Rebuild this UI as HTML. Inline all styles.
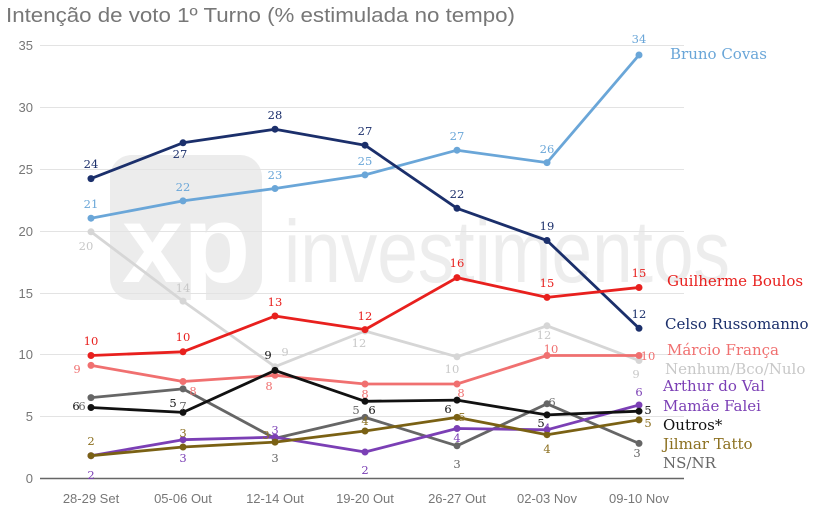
<!DOCTYPE html>
<html><head><meta charset="utf-8"><style>
body{margin:0;background:#fff;}
svg{display:block;}
.ax{font-family:"Liberation Sans",sans-serif;font-size:13px;fill:#777;}
.dl{font-family:"DejaVu Serif","Liberation Serif",serif;font-size:11.5px;text-anchor:middle;}
.lg{font-family:"DejaVu Serif","Liberation Serif",serif;font-size:15px;}
</style></head><body>
<svg width="819" height="513" viewBox="0 0 819 513" xmlns="http://www.w3.org/2000/svg">
<text x="6" y="22" font-family="Liberation Sans,sans-serif" font-size="20" fill="#777" textLength="509" lengthAdjust="spacingAndGlyphs">Intenção de voto 1º Turno (% estimulada no tempo)</text>
<!-- watermark -->
<rect x="110" y="155" width="152" height="145" rx="22" fill="#ececec"/>
<text x="122" y="282" font-family="Liberation Sans,sans-serif" font-weight="bold" font-size="110" fill="#fff">xp</text>
<text x="284" y="282" font-family="Liberation Sans,sans-serif" font-size="88" fill="#ededed" textLength="446" lengthAdjust="spacingAndGlyphs">investimentos</text>
<!-- grid -->
<g stroke="#e3e3e3" stroke-width="1">
<line x1="40" x2="684" y1="45.5" y2="45.5"/><line x1="40" x2="684" y1="107.5" y2="107.5"/>
<line x1="40" x2="684" y1="169.5" y2="169.5"/><line x1="40" x2="684" y1="231.5" y2="231.5"/>
<line x1="40" x2="684" y1="293.5" y2="293.5"/><line x1="40" x2="684" y1="354.5" y2="354.5"/>
<line x1="40" x2="684" y1="416.5" y2="416.5"/>
</g>
<line x1="40" x2="684" y1="478.5" y2="478.5" stroke="#666" stroke-width="1.5"/>
<g class="ax" text-anchor="end">
<text x="33" y="50">35</text><text x="33" y="112">30</text><text x="33" y="174">25</text>
<text x="33" y="236">20</text><text x="33" y="298">15</text><text x="33" y="359">10</text>
<text x="33" y="421">5</text><text x="33" y="483">0</text>
</g>
<g class="ax" text-anchor="middle">
<text x="91" y="503">28-29 Set</text><text x="183" y="503">05-06 Out</text><text x="275" y="503">12-14 Out</text>
<text x="365" y="503">19-20 Out</text><text x="457" y="503">26-27 Out</text><text x="547" y="503">02-03 Nov</text><text x="639" y="503">09-10 Nov</text>
</g>
<g fill="none" stroke-width="2.8" stroke-linejoin="round">
<polyline stroke="#d6d6d6" points="91,231.8 183,301.1 275,366.7 365,331 457,356.8 547,325.8 639,360.5"/>
<polyline stroke="#6aa6d8" points="91,218.2 183,200.9 275,188.5 365,174.9 457,150.2 547,162.6 639,55"/>
<polyline stroke="#1b2f6b" points="91,178.6 183,142.8 275,129.2 365,145.2 457,208.3 547,240.5 639,328.3"/>
<polyline stroke="#e8201e" points="91,355.5 183,351.8 275,316 365,329.6 457,277.6 547,297.4 639,287.5"/>
<polyline stroke="#f07070" points="91,365.4 183,381.5 275,375.3 365,384 457,384 547,355.5 639,355.5"/>
<polyline stroke="#666" points="91,397.6 183,388.9 275,438.4 365,417.4 457,445.8 547,403.8 639,443.4"/>
<polyline stroke="#7b3fb5" points="91,455.7 183,439.7 275,437.2 365,452 457,428.5 547,429.8 639,405"/>
<polyline stroke="#7a6114" points="91,455.7 183,447 275,442.1 365,431 457,417.4 547,434.7 639,419.9"/>
<polyline stroke="#111" points="91,407.5 183,412.4 275,370.4 365,401.3 457,400.1 547,414.9 639,411.2"/>
</g>
<g>
<g fill="#d6d6d6"><circle cx="91" cy="231.8" r="3.5"/><circle cx="183" cy="301.1" r="3.5"/><circle cx="275" cy="366.7" r="3.5"/><circle cx="365" cy="331" r="3.5"/><circle cx="457" cy="356.8" r="3.5"/><circle cx="547" cy="325.8" r="3.5"/><circle cx="639" cy="360.5" r="3.5"/></g>
<g fill="#6aa6d8"><circle cx="91" cy="218.2" r="3.5"/><circle cx="183" cy="200.9" r="3.5"/><circle cx="275" cy="188.5" r="3.5"/><circle cx="365" cy="174.9" r="3.5"/><circle cx="457" cy="150.2" r="3.5"/><circle cx="547" cy="162.6" r="3.5"/><circle cx="639" cy="55" r="3.5"/></g>
<g fill="#1b2f6b"><circle cx="91" cy="178.6" r="3.5"/><circle cx="183" cy="142.8" r="3.5"/><circle cx="275" cy="129.2" r="3.5"/><circle cx="365" cy="145.2" r="3.5"/><circle cx="457" cy="208.3" r="3.5"/><circle cx="547" cy="240.5" r="3.5"/><circle cx="639" cy="328.3" r="3.5"/></g>
<g fill="#e8201e"><circle cx="91" cy="355.5" r="3.5"/><circle cx="183" cy="351.8" r="3.5"/><circle cx="275" cy="316" r="3.5"/><circle cx="365" cy="329.6" r="3.5"/><circle cx="457" cy="277.6" r="3.5"/><circle cx="547" cy="297.4" r="3.5"/><circle cx="639" cy="287.5" r="3.5"/></g>
<g fill="#f07070"><circle cx="91" cy="365.4" r="3.5"/><circle cx="183" cy="381.5" r="3.5"/><circle cx="275" cy="375.3" r="3.5"/><circle cx="365" cy="384" r="3.5"/><circle cx="457" cy="384" r="3.5"/><circle cx="547" cy="355.5" r="3.5"/><circle cx="639" cy="355.5" r="3.5"/></g>
<g fill="#666"><circle cx="91" cy="397.6" r="3.5"/><circle cx="183" cy="388.9" r="3.5"/><circle cx="275" cy="438.4" r="3.5"/><circle cx="365" cy="417.4" r="3.5"/><circle cx="457" cy="445.8" r="3.5"/><circle cx="547" cy="403.8" r="3.5"/><circle cx="639" cy="443.4" r="3.5"/></g>
<g fill="#7b3fb5"><circle cx="91" cy="455.7" r="3.5"/><circle cx="183" cy="439.7" r="3.5"/><circle cx="275" cy="437.2" r="3.5"/><circle cx="365" cy="452" r="3.5"/><circle cx="457" cy="428.5" r="3.5"/><circle cx="547" cy="429.8" r="3.5"/><circle cx="639" cy="405" r="3.5"/></g>
<g fill="#7a6114"><circle cx="91" cy="455.7" r="3.5"/><circle cx="183" cy="447" r="3.5"/><circle cx="275" cy="442.1" r="3.5"/><circle cx="365" cy="431" r="3.5"/><circle cx="457" cy="417.4" r="3.5"/><circle cx="547" cy="434.7" r="3.5"/><circle cx="639" cy="419.9" r="3.5"/></g>
<g fill="#111"><circle cx="91" cy="407.5" r="3.5"/><circle cx="183" cy="412.4" r="3.5"/><circle cx="275" cy="370.4" r="3.5"/><circle cx="365" cy="401.3" r="3.5"/><circle cx="457" cy="400.1" r="3.5"/><circle cx="547" cy="414.9" r="3.5"/><circle cx="639" cy="411.2" r="3.5"/></g>
</g>
<!-- data labels -->
<g class="dl">
<g fill="#6aa6d8"><text x="91" y="208">21</text><text x="183" y="191">22</text><text x="275" y="179">23</text><text x="365" y="165">25</text><text x="457" y="140">27</text><text x="547" y="153">26</text><text x="639" y="43">34</text></g>
<g fill="#1b2f6b"><text x="91" y="168">24</text><text x="180" y="158">27</text><text x="275" y="119">28</text><text x="365" y="135">27</text><text x="457" y="198">22</text><text x="547" y="230">19</text><text x="639" y="318">12</text></g>
<g fill="#e8201e"><text x="91" y="345">10</text><text x="183" y="341">10</text><text x="275" y="306">13</text><text x="365" y="320">12</text><text x="457" y="267">16</text><text x="547" y="287">15</text><text x="639" y="277">15</text></g>
<g fill="#f07070"><text x="77" y="373">9</text><text x="193" y="395">8</text><text x="269" y="390">8</text><text x="365" y="398">8</text><text x="461" y="397">8</text><text x="551" y="353">10</text><text x="648" y="360">10</text></g>
<g fill="#c8c8c8"><text x="86" y="250">20</text><text x="183" y="292">14</text><text x="285" y="356">9</text><text x="359" y="347">12</text><text x="452" y="373">10</text><text x="544" y="339">12</text><text x="636" y="378">9</text></g>
<g fill="#111"><text x="76" y="410">6</text><text x="173" y="407">5</text><text x="268" y="359">9</text><text x="372" y="414">6</text><text x="448" y="413">6</text><text x="541" y="427">5</text><text x="648" y="414">5</text></g>
<g fill="#666"><text x="82" y="410">6</text><text x="183" y="410">7</text><text x="275" y="462">3</text><text x="356" y="414">5</text><text x="457" y="468">3</text><text x="552" y="406">6</text><text x="637" y="457">3</text></g>
<g fill="#7b3fb5"><text x="91" y="479">2</text><text x="183" y="462">3</text><text x="275" y="434">3</text><text x="365" y="474">2</text><text x="457" y="442">4</text><text x="547" y="432">4</text><text x="639" y="396">6</text></g>
<g fill="#8c7020"><text x="91" y="445">2</text><text x="183" y="437">3</text><text x="266" y="439">3</text><text x="365" y="425">4</text><text x="462" y="421">5</text><text x="547" y="453">4</text><text x="648" y="427">5</text></g>
</g>
<!-- legend -->
<g class="lg">
<text x="670" y="59" fill="#6aa6d8">Bruno Covas</text>
<text x="667" y="286" fill="#e8201e">Guilherme Boulos</text>
<text x="665" y="329" fill="#1b2f6b">Celso Russomanno</text>
<text x="667" y="355" fill="#f07070">Márcio França</text>
<text x="665" y="374" fill="#c8c8c8">Nenhum/Bco/Nulo</text>
<text x="663" y="391" fill="#7b3fb5">Arthur do Val</text>
<text x="663" y="411" fill="#7b3fb5">Mamãe Falei</text>
<text x="663" y="430" fill="#111">Outros*</text>
<text x="663" y="449" fill="#8c7020">Jilmar Tatto</text>
<text x="663" y="468" fill="#666">NS/NR</text>
</g>
</svg>
</body></html>
